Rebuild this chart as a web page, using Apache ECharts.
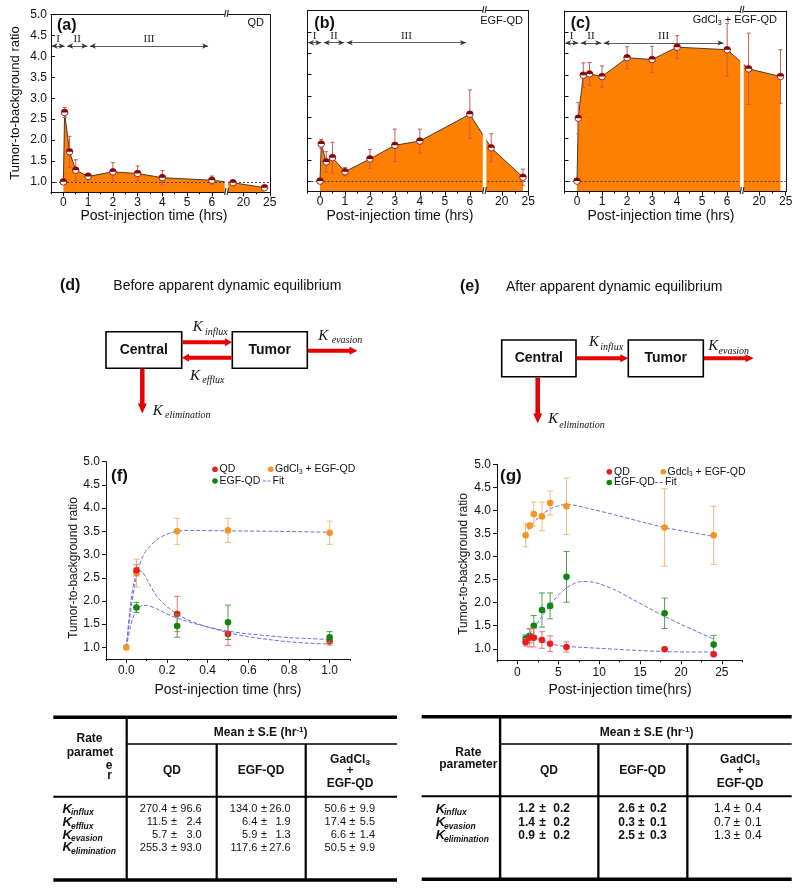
<!DOCTYPE html>
<html><head><meta charset="utf-8"><title>Tumor-to-background ratio</title>
<script src="https://cdn.jsdelivr.net/npm/echarts@6/dist/echarts.min.js"></script>
<style>html,body{margin:0;padding:0;background:#fff;}#chart{width:800px;height:890px;}</style>
</head><body><div id="chart"></div>
<script>
// ================= DATA =================
// Panels (a)-(c): time points (hrs) and tumor-to-background ratio
const timesTop  = [0, 0.05, 0.25, 0.5, 1, 2, 3, 4, 6, 18, 24];
const qdTop     = [1.00, 2.66, 1.72, 1.28, 1.13, 1.24, 1.20, 1.10, 1.04, 0.98, 0.86];
const qdTopErr  = [0, 0.12, 0.37, 0.25, 0.08, 0.22, 0.18, 0.17, 0.10, 0.03, 0.04];
const egfTop    = [1.00, 1.87, 1.45, 1.55, 1.22, 1.52, 1.84, 1.94, 2.57, 1.78, 1.09];
const egfTopErr = [0, 0.11, 0.24, 0.36, 0.10, 0.22, 0.38, 0.28, 0.57, 0.33, 0.19];
const gdTop     = [1.00, 2.48, 3.49, 3.52, 3.46, 3.90, 3.86, 4.15, 4.09, 3.64, 3.46];
const gdTopErr  = [0, 0.37, 0.29, 0.27, 0.25, 0.26, 0.31, 0.27, 0.62, 0.84, 0.63];
const topXMajor = [0, 1, 2, 3, 4, 5, 6, 20, 25];
const topXMinor = [-0.5, 0.5, 1.5, 2.5, 3.5, 4.5, 5.5, 22.5];
const yTicks    = [1.0, 1.5, 2.0, 2.5, 3.0, 3.5, 4.0, 4.5, 5.0];
const phaseNames = ['I', 'II', 'III'];
const phaseFrom  = [-0.48, 0.15, 1.07];
const phaseTo    = [0.05, 0.97, 5.85];
const phaseLevel = 4.25;

// Panel (f): 0-1 h
const fXMajor = [0, 0.2, 0.4, 0.6, 0.8, 1.0];
const fXMinor = [-0.1, 0.1, 0.3, 0.5, 0.7, 0.9, 1.1];
const timesFGd = [0, 0.05, 0.25, 0.5, 1.0];
const gdF      = [1.00, 2.60, 3.50, 3.52, 3.47];
const gdFErr   = [0, 0.30, 0.28, 0.26, 0.25];
const timesF   = [0.05, 0.25, 0.5, 1.0];
const qdF      = [2.66, 1.72, 1.29, 1.13];
const qdFErr   = [0.12, 0.38, 0.25, 0.08];
const egfF     = [1.86, 1.46, 1.54, 1.22];
const egfFErr  = [0.11, 0.24, 0.37, 0.12];
const fitQdF_t  = [0, 0.02, 0.04, 0.06, 0.08, 0.10, 0.15, 0.20, 0.25, 0.30, 0.35, 0.40, 0.50, 0.60, 0.70, 0.80, 0.90, 1.00];
const fitQdF_v  = [1.00, 1.90, 2.45, 2.66, 2.62, 2.47, 2.10, 1.88, 1.72, 1.60, 1.51, 1.44, 1.32, 1.23, 1.17, 1.12, 1.09, 1.07];
const fitEgfF_t = [0, 0.02, 0.04, 0.06, 0.08, 0.10, 0.15, 0.20, 0.25, 0.30, 0.40, 0.50, 0.60, 0.70, 0.80, 0.90, 1.00];
const fitEgfF_v = [1.00, 1.45, 1.72, 1.85, 1.90, 1.90, 1.83, 1.72, 1.63, 1.56, 1.44, 1.35, 1.29, 1.25, 1.21, 1.19, 1.17];
const fitGdF_t  = [0, 0.02, 0.04, 0.06, 0.08, 0.10, 0.15, 0.20, 0.25, 0.30, 0.50, 0.75, 1.00];
const fitGdF_v  = [1.00, 1.75, 2.30, 2.70, 2.95, 3.10, 3.32, 3.44, 3.50, 3.52, 3.51, 3.50, 3.48];

// Panel (g): 1-24 h
const gXMajor = [0, 5, 10, 15, 20, 25];
const gXMinor = [-2.5, 2.5, 7.5, 12.5, 17.5, 22.5, 27.5];
const timesG = [1, 1.5, 2, 3, 4, 6, 18, 24];
const qdG     = [1.14, 1.24, 1.24, 1.19, 1.11, 1.04, 0.99, 0.88];
const qdGErr  = [0.08, 0.20, 0.20, 0.18, 0.17, 0.11, 0.04, 0.03];
const egfG    = [1.22, 1.28, 1.50, 1.84, 1.93, 2.56, 1.77, 1.09];
const egfGErr = [0.08, 0.15, 0.22, 0.37, 0.28, 0.55, 0.33, 0.20];
const gdG     = [3.46, 3.67, 3.92, 3.87, 4.16, 4.09, 3.63, 3.46];
const gdGErr  = [0.25, 0.05, 0.26, 0.31, 0.26, 0.61, 0.84, 0.63];
const fitGdG_t  = [1, 1.5, 2, 3, 4, 5, 6, 9, 12, 15, 18, 21, 24];
const fitGdG_v  = [3.46, 3.62, 3.74, 3.91, 4.03, 4.10, 4.13, 4.03, 3.90, 3.76, 3.63, 3.53, 3.44];
const fitEgfG_t = [1, 2, 3, 4, 5, 6, 7, 8, 9, 10, 12, 14, 16, 18, 20, 22, 24];
const fitEgfG_v = [1.22, 1.45, 1.70, 1.95, 2.16, 2.32, 2.42, 2.46, 2.45, 2.41, 2.27, 2.08, 1.89, 1.70, 1.53, 1.37, 1.21];
const fitQdG_t  = [1, 2, 3, 4, 5, 6, 8, 10, 12, 15, 18, 21, 24];
const fitQdG_v  = [1.28, 1.25, 1.17, 1.11, 1.07, 1.05, 1.03, 1.01, 0.99, 0.96, 0.94, 0.93, 0.93];

// Tables
const tblLeftParams = ['influx', 'efflux', 'evasion', 'elimination'];
const tblLeftQDMean  = [270.4, 11.5, 5.7, 255.3];
const tblLeftQDErr   = [96.6, 2.4, 3.0, 93.0];
const tblLeftEgfMean = [134.0, 6.4, 5.9, 117.6];
const tblLeftEgfErr  = [26.0, 1.9, 1.3, 27.6];
const tblLeftGdMean  = [50.6, 17.4, 6.6, 50.5];
const tblLeftGdErr   = [9.9, 5.5, 1.4, 9.9];
const tblRightParams = ['influx', 'evasion', 'elimination'];
const tblRightQDMean  = [1.2, 1.4, 0.9];
const tblRightQDErr   = [0.2, 0.2, 0.2];
const tblRightEgfMean = [2.6, 0.3, 2.5];
const tblRightEgfErr  = [0.2, 0.1, 0.3];
const tblRightGdMean  = [1.4, 0.7, 1.3];
const tblRightGdErr   = [0.4, 0.1, 0.4];

// ================= BROKEN AXIS SCALE (a)-(c) =================
const SEG_END = 6.6, ANCHOR_T = 20, ANCHOR_X = 7.28, SCALE2 = 0.212;
const BR_L = 6.52, BR_R = 6.66;
function tx(t) { return t <= SEG_END ? t : ANCHOR_X + (t - ANCHOR_T) * SCALE2; }
function txInv(v) { return v <= SEG_END ? v : ANCHOR_T + (v - ANCHOR_X) / SCALE2; }

const SANS = '"Liberation Sans", Arial, sans-serif';
const SERIF = '"Liberation Serif", "Times New Roman", serif';

// ================= RENDERERS =================
function halfMarker(params, api) {
  const x = api.value(0), y = api.value(1), e = api.value(2);
  const p = api.coord([x, y]);
  const ch = [];
  if (e > 0) {
    const pt = api.coord([x, y + e]), pb = api.coord([x, y - e]);
    const st = { stroke: '#c65a5a', lineWidth: 1 };
    ch.push({ type: 'line', shape: { x1: p[0], y1: pt[1], x2: p[0], y2: pb[1] }, style: st });
    ch.push({ type: 'line', shape: { x1: p[0] - 2, y1: pt[1], x2: p[0] + 2, y2: pt[1] }, style: st });
    ch.push({ type: 'line', shape: { x1: p[0] - 2, y1: pb[1], x2: p[0] + 2, y2: pb[1] }, style: st });
  }
  ch.push({ type: 'circle', shape: { cx: p[0], cy: p[1], r: 3.3 }, style: { fill: '#fff', stroke: '#7a0000', lineWidth: 0.8 } });
  ch.push({ type: 'sector', shape: { cx: p[0], cy: p[1], r: 3.3, r0: 0, startAngle: Math.PI, endAngle: 2 * Math.PI, clockwise: true }, style: { fill: '#8b0000' } });
  return { type: 'group', children: ch };
}
function slashText(x, y) {
  return { type: 'text', style: { text: '//', x: x, y: y, font: 'bold 9px ' + SANS, fill: '#222',
    align: 'center', verticalAlign: 'middle', textAlign: 'center', textVerticalAlign: 'middle' } };
}
function breakStrip(params, api) {
  const a = api.coord([api.value(0), api.value(1)]);
  const b = api.coord([api.value(2), api.value(3)]);
  const x0 = Math.min(a[0], b[0]), x1 = Math.max(a[0], b[0]);
  const yT = Math.min(a[1], b[1]), yB = Math.max(a[1], b[1]);
  const xm = (x0 + x1) / 2;
  return { type: 'group', children: [
    { type: 'rect', shape: { x: x0, y: yT - 1.5, width: x1 - x0, height: yB - yT + 3 }, style: { fill: '#fff' } },
    slashText(xm, yT), slashText(xm, yB)
  ] };
}
function dotRenderer(fill, errColor) {
  return function (params, api) {
    const x = api.value(0), y = api.value(1), e = api.value(2);
    const p = api.coord([x, y]);
    const ch = [];
    if (e > 0) {
      const pt = api.coord([x, y + e]), pb = api.coord([x, y - e]);
      const st = { stroke: errColor, lineWidth: 1 };
      ch.push({ type: 'line', shape: { x1: p[0], y1: pt[1], x2: p[0], y2: pb[1] }, style: st });
      ch.push({ type: 'line', shape: { x1: p[0] - 3, y1: pt[1], x2: p[0] + 3, y2: pt[1] }, style: st });
      ch.push({ type: 'line', shape: { x1: p[0] - 3, y1: pb[1], x2: p[0] + 3, y2: pb[1] }, style: st });
    }
    ch.push({ type: 'circle', shape: { cx: p[0], cy: p[1], r: 3.3 }, style: { fill: fill } });
    return { type: 'group', children: ch };
  };
}

// ================= OPTION BUILD =================
const grids = [
  { left: 51, top: 14.7, width: 219, height: 177.6 },
  { left: 307.5, top: 10.7, width: 221, height: 181 },
  { left: 564.5, top: 11, width: 221.5, height: 180.7 },
  { left: 106, top: 461.7, width: 244, height: 197.3 },
  { left: 497, top: 464.3, width: 245.3, height: 196 }
];
const xAxes = [], yAxes = [], series = [];
function axisBase(gi) {
  return { gridIndex: gi, type: 'value', z: 5, splitLine: { show: false },
    axisLine: { show: true, onZero: false, lineStyle: { color: '#111', width: 1 } } };
}
const labelStyle = { fontSize: 12, color: '#111', fontFamily: SANS };

const topSets = [[qdTop, qdTopErr], [egfTop, egfTopErr], [gdTop, gdTopErr]];
for (let i = 0; i < 3; i++) {
  const vals = topSets[i][0], errs = topSets[i][1];
  const xi = xAxes.length;
  xAxes.push(Object.assign(axisBase(i), { min: -0.5, max: 8.35, position: 'bottom',
    axisTick: { show: true, inside: false, length: 4, customValues: topXMajor.map(tx), lineStyle: { color: '#111' } },
    axisLabel: Object.assign({ show: true, margin: 4, customValues: topXMajor.map(tx),
      formatter: function (v) { return String(Math.round(txInv(v))); } }, labelStyle) }));
  xAxes.push(Object.assign(axisBase(i), { min: -0.5, max: 8.35, position: 'bottom',
    axisLine: { show: false, onZero: false },
    axisTick: { show: true, inside: false, length: 2, customValues: topXMinor.map(tx), lineStyle: { color: '#111' } },
    axisLabel: { show: false } }));
  xAxes.push(Object.assign(axisBase(i), { min: -0.5, max: 8.35, position: 'top',
    axisTick: { show: false }, axisLabel: { show: false } }));
  const yi = yAxes.length;
  yAxes.push(Object.assign(axisBase(i), { min: 0.75, max: 5, position: 'left',
    axisTick: { show: true, inside: true, length: 4, customValues: yTicks, lineStyle: { color: '#111' } },
    axisLabel: Object.assign({ show: i === 0, margin: 4, customValues: yTicks,
      formatter: function (v) { return v.toFixed(1); } }, labelStyle) }));
  yAxes.push(Object.assign(axisBase(i), { min: 0.75, max: 5, position: 'right',
    axisTick: { show: false }, axisLabel: { show: false } }));

  const mlData = [{ yAxis: 1, symbol: 'none', label: { show: false },
    lineStyle: { color: '#333', width: 0.9, type: [2, 2] } }];
  for (let k = 0; k < phaseNames.length; k++) {
    const lab = { show: true, formatter: phaseNames[k], position: 'insideMiddleTop', distance: 1.5,
      color: '#222', fontFamily: SERIF, fontSize: 11 };
    mlData.push([
      { coord: [phaseFrom[k], phaseLevel], symbol: 'arrow', symbolSize: [4, 6], label: lab,
        lineStyle: { color: '#333', width: 0.8, type: 'solid' } },
      { coord: [phaseTo[k], phaseLevel], symbol: 'arrow', symbolSize: [4, 6], label: lab,
        lineStyle: { color: '#333', width: 0.8, type: 'solid' } }
    ]);
  }
  series.push({ type: 'line', xAxisIndex: xi, yAxisIndex: yi, z: 2, silent: true,
    data: timesTop.map(function (t, k) { return [tx(t), vals[k]]; }),
    symbol: 'none', lineStyle: { color: '#1a1a1a', width: 0.8 },
    areaStyle: { color: '#FF8000', opacity: 1, origin: 'start' },
    markLine: { silent: true, animation: false, symbol: ['none', 'none'], data: mlData } });
  series.push({ type: 'custom', xAxisIndex: xi, yAxisIndex: yi, z: 6, silent: true,
    data: timesTop.map(function (t, k) { return [tx(t), vals[k], errs[k]]; }),
    encode: { x: 0, y: 1 }, renderItem: halfMarker });
  series.push({ type: 'custom', xAxisIndex: xi, yAxisIndex: yi, z: 10, silent: true,
    data: [[BR_L, 5, BR_R, 0.75]], encode: { x: [0, 2], y: [1, 3] }, renderItem: breakStrip });
}

function addBottomPanel(gi, xmin, xmax, xMajor, xMinor, xfmt, fits, dots) {
  const xi = xAxes.length;
  xAxes.push(Object.assign(axisBase(gi), { min: xmin, max: xmax, position: 'bottom',
    axisTick: { show: true, inside: false, length: 4, customValues: xMajor, lineStyle: { color: '#111' } },
    axisLabel: Object.assign({ show: true, margin: 6, customValues: xMajor, formatter: xfmt }, labelStyle) }));
  xAxes.push(Object.assign(axisBase(gi), { min: xmin, max: xmax, position: 'bottom',
    axisLine: { show: false, onZero: false },
    axisTick: { show: true, inside: false, length: 2, customValues: xMinor, lineStyle: { color: '#111' } },
    axisLabel: { show: false } }));
  const yi = yAxes.length;
  yAxes.push(Object.assign(axisBase(gi), { min: 0.75, max: 5, position: 'left',
    axisTick: { show: true, inside: false, length: 4, customValues: yTicks, lineStyle: { color: '#111' } },
    axisLabel: Object.assign({ show: true, margin: 6, customValues: yTicks,
      formatter: function (v) { return v.toFixed(1); } }, labelStyle) }));
  fits.forEach(function (f) {
    series.push({ type: 'line', xAxisIndex: xi, yAxisIndex: yi, z: 2, silent: true, smooth: 0.3,
      symbol: 'none', data: f[0].map(function (t, k) { return [t, f[1][k]]; }),
      lineStyle: { color: '#6d6de3', width: 1, type: [4, 2] } });
  });
  dots.forEach(function (d) {
    series.push({ type: 'custom', xAxisIndex: xi, yAxisIndex: yi, z: 4, silent: true,
      data: d[0].map(function (t, k) { return [t, d[1][k], d[2][k]]; }),
      encode: { x: 0, y: 1 }, renderItem: dotRenderer(d[3], d[4]) });
  });
}
const RED = '#ec1c1c', GREEN = '#118511', ORANGE = '#f7931e';
const RED_E = '#f07474', GREEN_E = '#4f9f4f', ORANGE_E = '#f7b877';
addBottomPanel(3, -0.1, 1.1, fXMajor, fXMinor, function (v) { return v.toFixed(1); },
  [[fitGdF_t, fitGdF_v], [fitQdF_t, fitQdF_v], [fitEgfF_t, fitEgfF_v]],
  [[timesFGd, gdF, gdFErr, ORANGE, ORANGE_E], [timesF, qdF, qdFErr, RED, RED_E], [timesF, egfF, egfFErr, GREEN, GREEN_E]]);
addBottomPanel(4, -2.5, 27.5, gXMajor, gXMinor, function (v) { return String(v); },
  [[fitGdG_t, fitGdG_v], [fitEgfG_t, fitEgfG_v], [fitQdG_t, fitQdG_v]],
  [[timesG, gdG, gdGErr, ORANGE, ORANGE_E], [timesG, egfG, egfGErr, GREEN, GREEN_E], [timesG, qdG, qdGErr, RED, RED_E]]);

// ================= GRAPHIC (labels, diagrams, tables) =================
const G = [];
function txt(text, x, y, font, al, opts) {
  al = al || 'left';
  G.push({ type: 'text', z: 50, silent: true, style: Object.assign({ text: text, x: x, y: y, font: font, fill: '#111',
    align: al, verticalAlign: 'middle', textAlign: al, textVerticalAlign: 'middle' }, opts || {}) });
}
function rtxt(text, x, y, rich, al) {
  al = al || 'left';
  G.push({ type: 'text', z: 50, silent: true, style: { text: text, x: x, y: y, fill: '#111', rich: rich,
    align: al, verticalAlign: 'middle', textAlign: al, textVerticalAlign: 'middle' } });
}
function vtxt(text, cx, cy, font) {
  G.push({ type: 'text', z: 50, silent: true, x: cx, y: cy, rotation: Math.PI / 2,
    style: { text: text, x: 0, y: 0, font: font, fill: '#111', align: 'center', verticalAlign: 'middle',
      textAlign: 'center', textVerticalAlign: 'middle' } });
}
function rect(x, y, w, h, fill) {
  G.push({ type: 'rect', z: 50, silent: true, shape: { x: x, y: y, width: w, height: h }, style: { fill: fill || '#000' } });
}
function box(x, y, w, h) {
  G.push({ type: 'rect', z: 50, silent: true, shape: { x: x, y: y, width: w, height: h },
    style: { fill: '#fff', stroke: '#000', lineWidth: 1.6 } });
}
function arrow(x1, y1, x2, y2, w, hl, hw) {
  const dx = x2 - x1, dy = y2 - y1, L = Math.hypot(dx, dy), ux = dx / L, uy = dy / L, nx = -uy, ny = ux;
  const bx = x2 - ux * hl, by = y2 - uy * hl;
  G.push({ type: 'polygon', z: 50, silent: true, style: { fill: '#e60000' }, shape: { points: [
    [x1 + nx * w / 2, y1 + ny * w / 2], [bx + nx * w / 2, by + ny * w / 2], [bx + nx * hw / 2, by + ny * hw / 2],
    [x2, y2], [bx - nx * hw / 2, by - ny * hw / 2], [bx - nx * w / 2, by - ny * w / 2], [x1 - nx * w / 2, y1 - ny * w / 2]] } });
}
function kLabel(xK, yK, sub, xS, yS) {
  txt('K', xK, yK, 'italic 15px ' + SERIF);
  txt(sub, xS, yS, 'italic 10px ' + SERIF);
}
const subRich = {
  n: { font: '11px ' + SANS, lineHeight: 13, fill: '#111' },
  s: { font: '7px ' + SANS, lineHeight: 7, verticalAlign: 'bottom', fill: '#111' }
};

// Panel labels (a)-(c)
txt('(a)', 57, 25.7, 'bold 16px ' + SANS);
txt('(b)', 314.3, 23.3, 'bold 16px ' + SANS);
txt('(c)', 570.7, 24, 'bold 16px ' + SANS);
txt('QD', 264, 23.3, '11px ' + SANS, 'right');
txt('EGF-QD', 523, 21, '11px ' + SANS, 'right');
rtxt('{n|GdCl}{s|3}{n| + EGF-QD}', 777, 20, subRich, 'right');
vtxt('Tumor-to-background ratio', 15, 103, '13px ' + SANS);
txt('Post-injection time (hrs)', 154, 216, '14px ' + SANS, 'center');
txt('Post-injection time (hrs)', 400, 216, '14px ' + SANS, 'center');
txt('Post-injection time (hrs)', 661, 216, '14px ' + SANS, 'center');

// Diagram (d)
txt('(d)', 60, 285.7, 'bold 16px ' + SANS);
txt('Before apparent dynamic equilibrium', 113.3, 286, '14px ' + SANS);
box(106, 331.7, 75.7, 36.6);
box(232.3, 331.7, 75, 36.6);
txt('Central', 143.8, 350.2, 'bold 14px ' + SANS, 'center');
txt('Tumor', 269.8, 350.2, 'bold 14px ' + SANS, 'center');
arrow(182.5, 342.3, 232, 342.3, 4, 7, 8);
arrow(231.5, 357.7, 182, 357.7, 4, 7, 8);
arrow(308, 350.7, 357.5, 350.7, 4, 8, 8);
arrow(142.3, 369, 142.3, 413.5, 4.5, 10, 9);
kLabel(192.7, 327.3, 'influx', 205, 332.7);
kLabel(190, 375.7, 'efflux', 202.3, 380);
kLabel(318.3, 335.7, 'evasion', 331.7, 340.3);
kLabel(152.7, 410.7, 'elimination', 165, 415.8);

// Diagram (e)
txt('(e)', 460, 286.7, 'bold 16px ' + SANS);
txt('After apparent dynamic equilibrium', 506, 287, '14px ' + SANS);
box(501.7, 340, 74.3, 36.7);
box(628.3, 340, 75, 36.7);
txt('Central', 538.8, 358.6, 'bold 14px ' + SANS, 'center');
txt('Tumor', 665.8, 358.6, 'bold 14px ' + SANS, 'center');
arrow(576.8, 358.3, 628.3, 358.3, 4, 8, 8);
arrow(704, 358.3, 753.5, 358.3, 4, 8, 8);
arrow(537.7, 377.5, 537.7, 423.5, 4.5, 10, 9);
kLabel(589, 341.7, 'influx', 600.3, 347.3);
kLabel(708.3, 346, 'evasion', 718.5, 351);
kLabel(548.3, 419.3, 'elimination', 559.3, 425);

// Panel (f) / (g) labels and legends
txt('(f)', 111, 476, 'bold 17px ' + SANS);
txt('(g)', 500, 476.7, 'bold 17px ' + SANS);
vtxt('Tumor-to-background ratio', 74, 568, '12px ' + SANS);
vtxt('Tumor-to-background ratio', 463.3, 564, '12px ' + SANS);
txt('Post-injection time (hrs)', 228, 690, '14px ' + SANS, 'center');
txt('Post-injection time(hrs)', 620, 690, '14px ' + SANS, 'center');
function legendDot(cx, cy, color) {
  G.push({ type: 'circle', z: 50, silent: true, shape: { cx: cx, cy: cy, r: 2.8 }, style: { fill: color } });
}
function legendFit(x1, x2, y) {
  G.push({ type: 'line', z: 50, silent: true, shape: { x1: x1, y1: y, x2: x2, y2: y },
    style: { stroke: '#6d6de3', lineWidth: 1, lineDash: [3, 1.5] } });
}
const legRich = {
  n: { font: '10.5px ' + SANS, lineHeight: 13, fill: '#111' },
  s: { font: '6.5px ' + SANS, lineHeight: 7, verticalAlign: 'bottom', fill: '#111' }
};
legendDot(215, 469.3, RED); txt('QD', 219.5, 469.3, '10.5px ' + SANS);
legendDot(270.7, 469.3, ORANGE); rtxt('{n|GdCl}{s|3}{n| + EGF-QD}', 275, 469.3, legRich);
legendDot(215, 481, GREEN); txt('EGF-QD', 219.5, 481, '10.5px ' + SANS);
legendFit(263, 271, 481); txt('Fit', 272.5, 481, '10.5px ' + SANS);
legendDot(609.3, 471.7, RED); txt('QD', 614, 471.7, '10.5px ' + SANS);
legendDot(663.3, 471.7, ORANGE); rtxt('{n|Gdcl}{s|3}{n| + EGF-QD}', 667.5, 471.7, legRich);
legendDot(609.3, 482.5, GREEN); txt('EGF-QD', 614, 482.5, '10.5px ' + SANS);
legendFit(655, 663, 482.5); txt('Fit', 665, 482.5, '10.5px ' + SANS);

// Tables
const hdrRich = {
  b: { font: 'bold 12px ' + SANS, lineHeight: 14, fill: '#111' },
  s: { font: 'bold 8px ' + SANS, lineHeight: 8, verticalAlign: 'top', fill: '#111' },
  u: { font: 'bold 8px ' + SANS, lineHeight: 8, verticalAlign: 'bottom', fill: '#111' }
};
const HB = 'bold 12px ' + SANS;
function valueCol(means, errs, xMean, xPm, xErr, ys, font) {
  for (let k = 0; k < means.length; k++) {
    txt(means[k].toFixed(1), xMean, ys[k], font, 'right');
    txt('\u00b1', xPm, ys[k], font, 'center');
    txt(errs[k].toFixed(1), xErr, ys[k], font, 'right');
  }
}
function rowLabels(params, xK, xS, ys) {
  for (let k = 0; k < params.length; k++) {
    txt('K', xK, ys[k], 'italic bold 13px ' + SANS);
    txt(params[k], xS, ys[k] + 4, 'italic bold 8.5px ' + SANS);
  }
}
// left table
rect(53.3, 715.5, 343.7, 3.6);
rect(53.3, 878.2, 343.7, 3.6);
rect(125.6, 717, 2.2, 163);
rect(126.7, 743.2, 270.3, 1.6);
rect(53.3, 795.8, 343.7, 2);
rect(215.6, 744, 2.2, 135);
rect(304.6, 744, 2.2, 135);
rtxt('{b|Mean \u00b1 S.E (hr}{s|-1}{b|)}', 260.7, 732.7, hdrRich, 'center');
txt('Rate', 89.5, 738.7, HB, 'center');
txt('paramet', 90, 752.5, HB, 'center');
txt('e', 109, 765.5, HB, 'center');
txt('r', 109.5, 775.7, HB, 'center');
txt('QD', 172, 771, HB, 'center');
txt('EGF-QD', 261, 771, HB, 'center');
rtxt('{b|GadCl}{u|3}', 350, 759.5, hdrRich, 'center');
txt('+', 350, 771, HB, 'center');
txt('EGF-QD', 350, 784, HB, 'center');
const leftRowsY = [809, 822.3, 835, 847.7];
rowLabels(tblLeftParams, 62.5, 71, leftRowsY);
const VR = '11px ' + SANS;
valueCol(tblLeftQDMean, tblLeftQDErr, 167.3, 174, 201.7, leftRowsY, VR);
valueCol(tblLeftEgfMean, tblLeftEgfErr, 257.3, 264, 290.7, leftRowsY, VR);
valueCol(tblLeftGdMean, tblLeftGdErr, 346, 352.3, 375, leftRowsY, VR);
// right table
rect(421.7, 715, 370, 3.6);
rect(421.7, 877.5, 370, 3.6);
rect(498.9, 716.7, 2.4, 163);
rect(500, 743.2, 291.7, 1.6);
rect(421.7, 795.2, 370, 2);
rect(597.2, 744, 2.3, 135);
rect(686.2, 744, 2.3, 135);
rtxt('{b|Mean \u00b1 S.E (hr}{s|-1}{b|)}', 646.7, 733, hdrRich, 'center');
txt('Rate', 468.3, 752.3, HB, 'center');
txt('parameter', 468.3, 764.3, HB, 'center');
txt('QD', 549, 771, HB, 'center');
txt('EGF-QD', 642.5, 771, HB, 'center');
rtxt('{b|GadCl}{u|3}', 740, 759.5, hdrRich, 'center');
txt('+', 740, 771, HB, 'center');
txt('EGF-QD', 740, 784, HB, 'center');
const rightRowsY = [809, 822.3, 835.7];
rowLabels(tblRightParams, 435.7, 444, rightRowsY);
valueCol(tblRightQDMean, tblRightQDErr, 535, 542.5, 570, rightRowsY, 'bold 12px ' + SANS);
valueCol(tblRightEgfMean, tblRightEgfErr, 635, 641.3, 666.7, rightRowsY, 'bold 12px ' + SANS);
valueCol(tblRightGdMean, tblRightGdErr, 730.7, 736.7, 761.7, rightRowsY, '12px ' + SANS);

const option = {
  animation: false,
  backgroundColor: '#fff',
  textStyle: { fontFamily: SANS },
  grid: grids,
  xAxis: xAxes,
  yAxis: yAxes,
  series: series,
  graphic: { elements: G }
};
const chart = echarts.init(document.getElementById('chart'), null, { renderer: 'canvas', width: 800, height: 890 });
chart.setOption(option);
</script></body></html>
